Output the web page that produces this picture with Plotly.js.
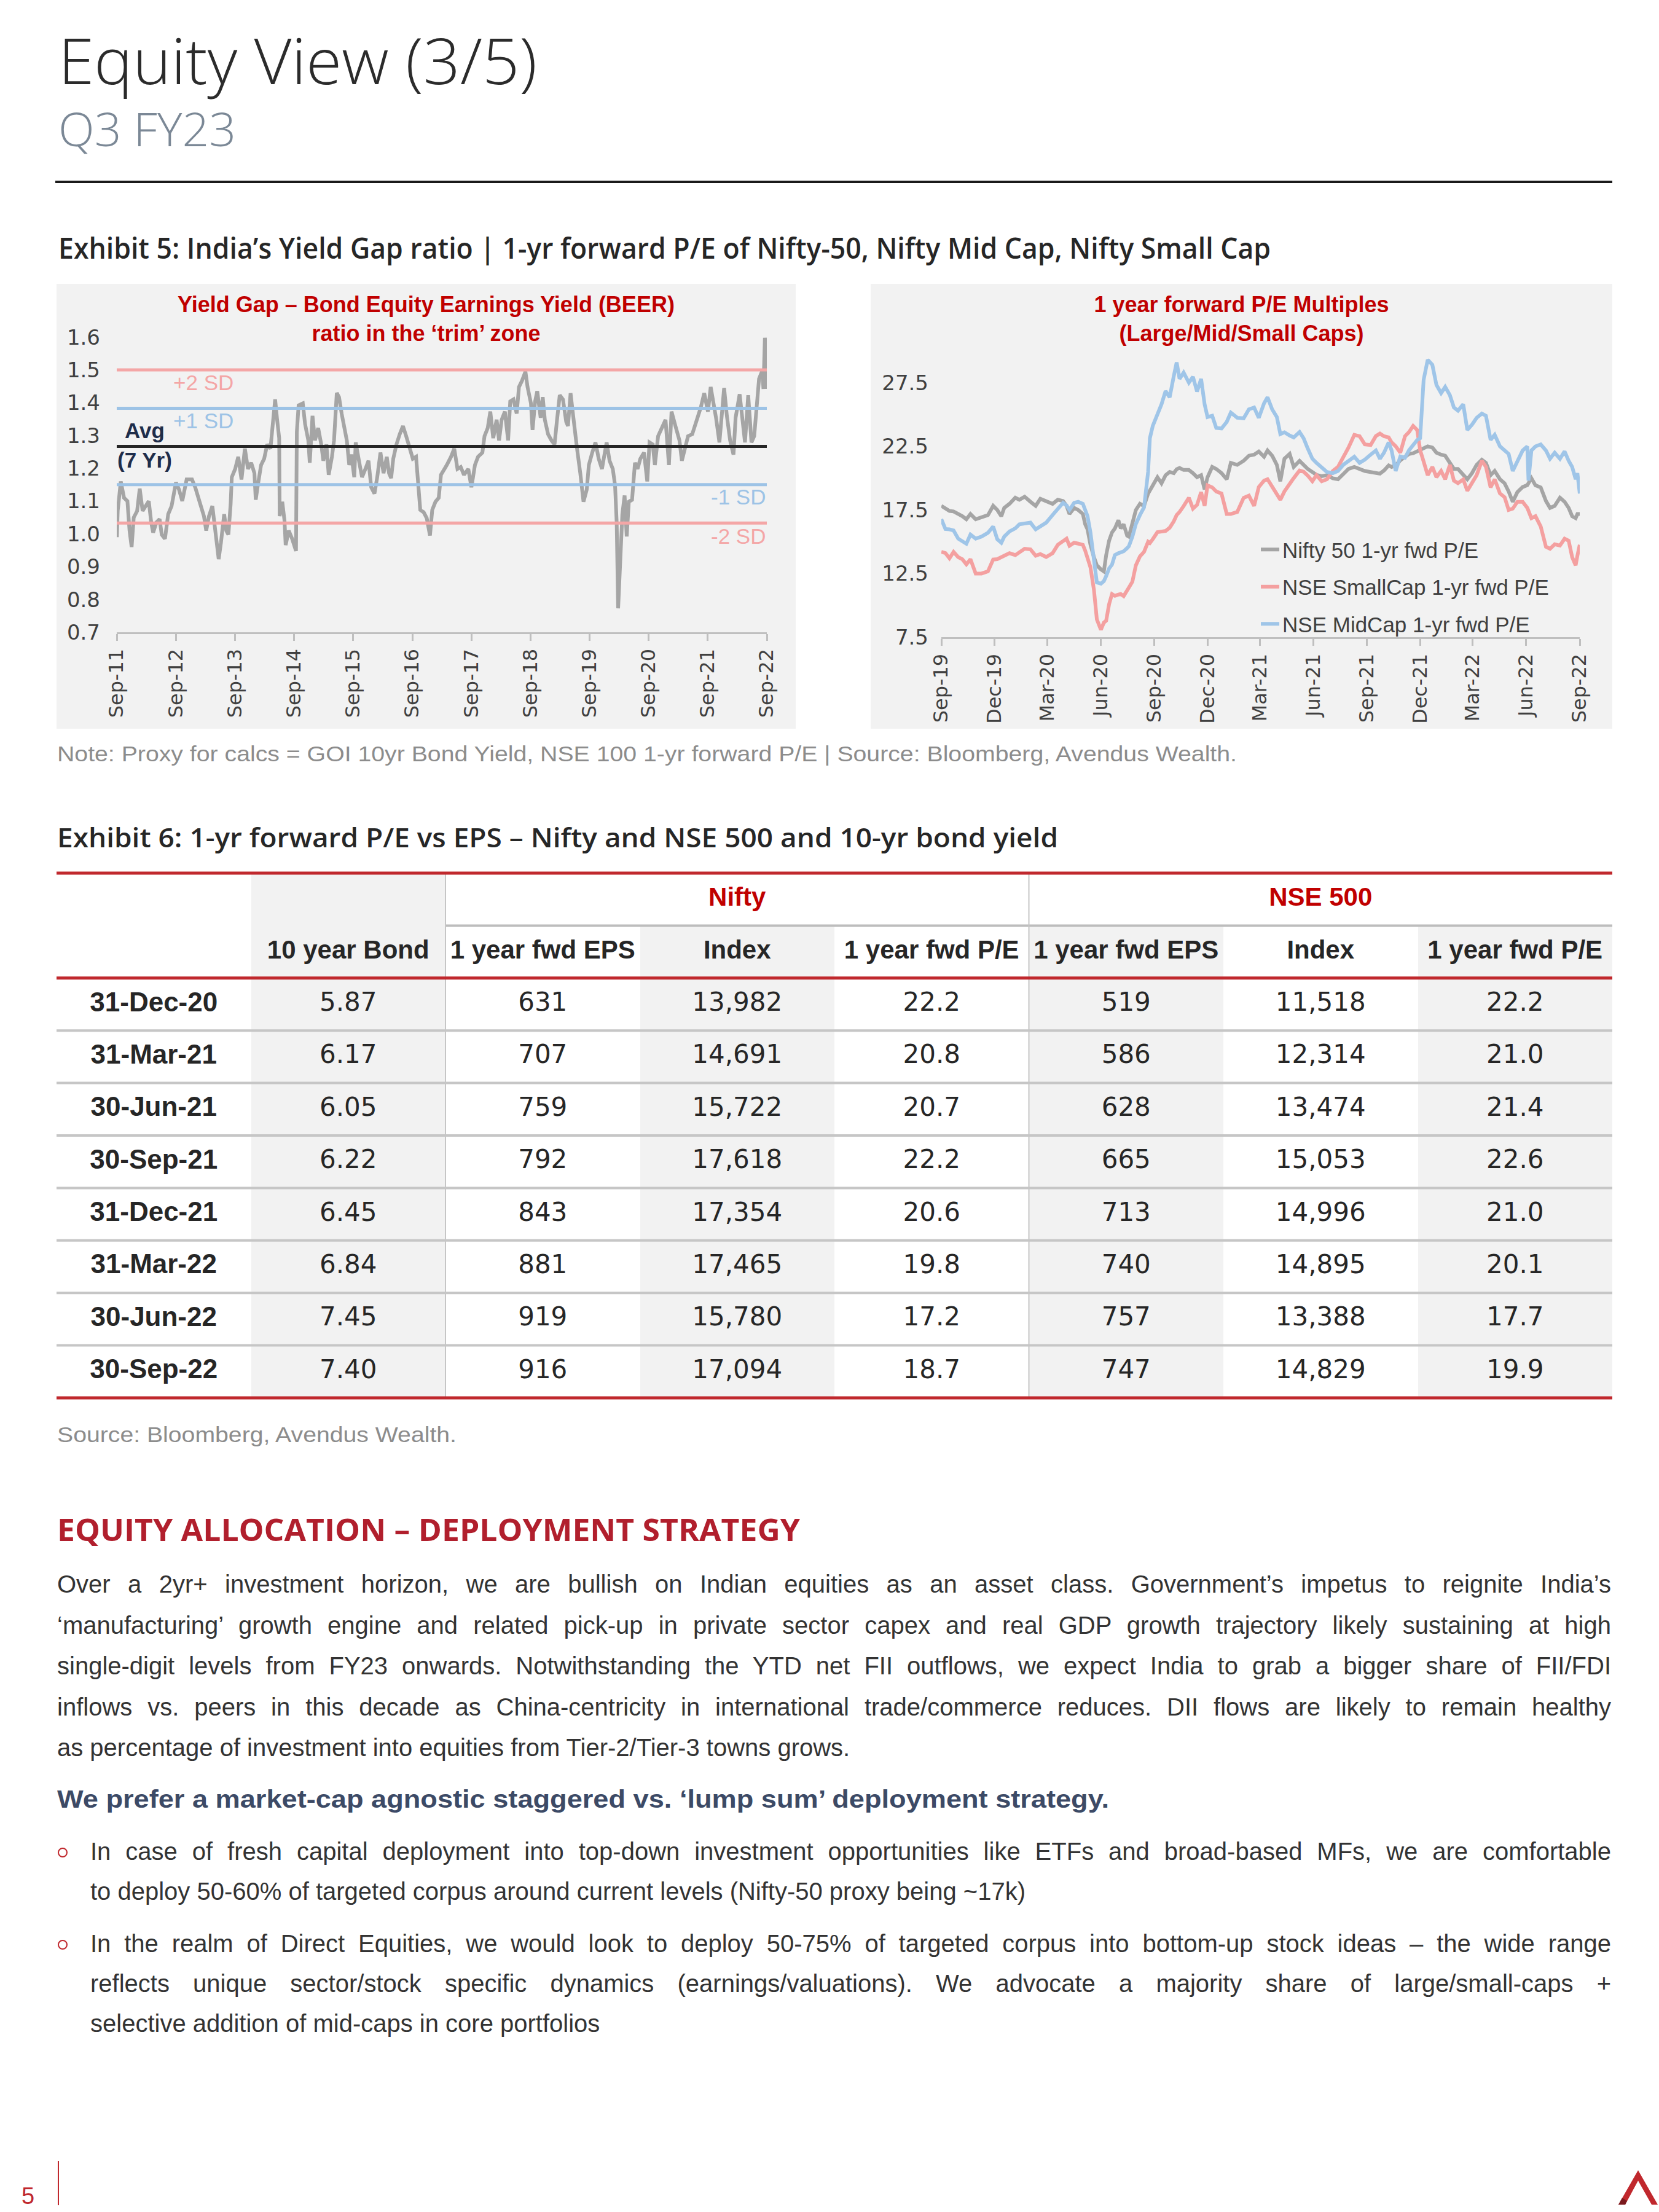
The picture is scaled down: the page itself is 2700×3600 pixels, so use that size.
<!DOCTYPE html>
<html><head><meta charset="utf-8"><title>Equity View (3/5)</title>
<script src="https://cdn.plot.ly/plotly-3.0.1.min.js"></script>
<style>
html,body{margin:0;padding:0;background:#fff}
body{position:relative;width:2700px;height:3600px;overflow:hidden;font-family:"Liberation Sans",Arial,sans-serif;color:#262626}
.t{position:absolute;left:0;top:0;white-space:nowrap;line-height:1;transform-origin:0 0}
.box{position:absolute}
</style></head><body>
<div class="box" style="left:90px;top:294px;width:2534px;height:4px;background:#1a1a1a"></div>
<div id="beer" class="box" style="left:92px;top:462px;width:1203px;height:724px"></div>
<div id="pe" class="box" style="left:1417px;top:462px;width:1207px;height:724px"></div>
<div id="tbl" class="box" style="left:92px;top:1416px;width:2532px;height:864px"></div>
<div class="box" style="left:94px;top:3517px;width:2px;height:72px;background:#c0282d"></div>
<svg class="box" style="left:2628px;top:3530px" width="72" height="62"><polygon points="38,2 70,58 60,58 38,19 17,58 6,58" fill="#c0282d"/><polygon points="17,58 6,58 12,47 20,52" fill="#7a1a1e"/></svg>
<script>
// ---------------- DATA ----------------
// Exhibit 5 left: Yield Gap (BEER) ratio
const beerDates = ['2011-09-02','2011-09-07','2011-09-26','2011-10-16','2011-11-06','2011-11-19','2011-12-02','2011-12-15','2012-01-05','2012-01-21','2012-02-08','2012-02-27','2012-03-17','2012-04-01','2012-04-13','2012-05-03','2012-05-23','2012-06-05','2012-06-25','2012-07-15','2012-08-05','2012-09-01','2012-09-20','2012-10-10','2012-11-06','2012-12-09','2012-12-29','2013-01-25','2013-02-21','2013-03-07','2013-03-24','2013-04-14','2013-05-04','2013-05-23','2013-06-06','2013-06-26','2013-07-09','2013-07-22','2013-08-05','2013-08-12','2013-09-02','2013-09-21','2013-10-11','2013-11-01','2013-11-20','2013-12-10','2013-12-30','2014-01-07','2014-01-20','2014-02-09','2014-02-28','2014-03-19','2014-04-08','2014-04-21','2014-05-07','2014-05-18','2014-06-01','2014-06-04','2014-06-20','2014-07-04','2014-07-11','2014-07-30','2014-08-20','2014-09-13','2014-09-18','2014-09-29','2014-10-25','2014-11-08','2014-11-28','2014-12-07','2014-12-24','2015-01-08','2015-01-28','2015-02-16','2015-03-01','2015-03-20','2015-04-03','2015-04-23','2015-05-06','2015-05-23','2015-06-06','2015-06-22','2015-07-11','2015-07-24','2015-08-08','2015-08-21','2015-09-08','2015-09-17','2015-10-07','2015-10-26','2015-11-16','2015-12-05','2015-12-22','2016-01-11','2016-01-28','2016-02-17','2016-03-07','2016-03-27','2016-04-10','2016-04-23','2016-05-06','2016-05-26','2016-06-15','2016-07-05','2016-07-25','2016-08-14','2016-09-04','2016-09-24','2016-10-07','2016-10-20','2016-11-10','2016-11-29','2016-12-19','2017-01-02','2017-01-22','2017-02-11','2017-02-25','2017-03-15','2017-04-02','2017-04-28','2017-05-18','2017-06-07','2017-06-27','2017-07-17','2017-08-13','2017-09-01','2017-09-23','2017-10-12','2017-11-08','2017-11-21','2017-12-11','2017-12-27','2018-01-14','2018-02-04','2018-02-19','2018-03-07','2018-03-27','2018-04-16','2018-04-29','2018-05-19','2018-06-08','2018-06-22','2018-07-11','2018-08-01','2018-08-14','2018-09-04','2018-09-14','2018-09-30','2018-10-13','2018-11-03','2018-11-16','2018-11-29','2018-12-19','2019-01-09','2019-01-28','2019-02-11','2019-03-01','2019-03-21','2019-04-10','2019-04-21','2019-05-07','2019-05-20','2019-06-03','2019-06-16','2019-07-06','2019-07-26','2019-08-15','2019-08-28','2019-09-18','2019-10-08','2019-10-28','2019-11-17','2019-11-30','2019-12-16','2020-01-03','2020-01-23','2020-02-06','2020-02-16','2020-02-25','2020-03-09','2020-03-22','2020-04-05','2020-04-18','2020-05-01','2020-05-21','2020-06-08','2020-06-24','2020-07-11','2020-08-03','2020-08-23','2020-09-06','2020-09-26','2020-10-09','2020-10-29','2020-11-25','2020-12-14','2021-01-04','2021-01-20','2021-02-13','2021-03-10','2021-03-25','2021-04-12','2021-05-02','2021-05-28','2021-06-24','2021-07-20','2021-08-10','2021-09-02','2021-09-19','2021-10-09','2021-10-22','2021-11-12','2021-11-25','2021-12-11','2021-12-28','2022-01-17','2022-02-07','2022-02-20','2022-03-17','2022-04-06','2022-04-19','2022-05-09','2022-05-29','2022-06-15','2022-07-01','2022-07-15','2022-08-04','2022-08-11','2022-08-20','2022-08-27','2022-09-01'];
const beerValues = [0.99,1.07,1.16,1.11,1.10,1.01,0.96,1.05,1.07,1.138,1.07,1.085,1.10,1.035,1.004,1.035,1.045,0.998,0.985,1.06,1.085,1.157,1.135,1.10,1.166,1.166,1.142,1.098,1.054,1.01,1.054,1.085,1.01,0.923,0.973,1.06,1.01,0.998,1.091,1.173,1.198,1.235,1.166,1.26,1.198,1.217,1.185,1.104,1.148,1.21,1.229,1.273,1.26,1.323,1.41,1.354,1.292,1.054,1.098,1.04,0.966,1.01,0.985,0.948,1.31,1.392,1.398,1.335,1.285,1.217,1.36,1.285,1.323,1.273,1.223,1.273,1.18,1.235,1.285,1.43,1.417,1.367,1.323,1.285,1.21,1.242,1.173,1.279,1.223,1.173,1.198,1.223,1.142,1.123,1.173,1.248,1.185,1.235,1.185,1.17,1.229,1.273,1.304,1.329,1.298,1.267,1.229,1.235,1.148,1.073,1.066,1.048,0.995,1.073,1.098,1.11,1.18,1.198,1.21,1.235,1.26,1.198,1.204,1.18,1.198,1.142,1.21,1.235,1.248,1.298,1.323,1.373,1.292,1.348,1.285,1.348,1.373,1.285,1.404,1.41,1.367,1.448,1.467,1.495,1.448,1.398,1.317,1.404,1.435,1.354,1.417,1.348,1.304,1.285,1.273,1.342,1.423,1.41,1.342,1.329,1.429,1.373,1.304,1.26,1.185,1.098,1.135,1.21,1.248,1.279,1.229,1.198,1.235,1.279,1.223,1.198,1.148,1.035,0.773,0.948,1.06,1.117,0.992,1.098,1.104,1.217,1.198,1.229,1.248,1.16,1.279,1.273,1.21,1.298,1.329,1.348,1.21,1.373,1.329,1.285,1.223,1.254,1.298,1.304,1.342,1.386,1.429,1.373,1.448,1.398,1.354,1.279,1.354,1.445,1.36,1.285,1.242,1.354,1.426,1.323,1.279,1.423,1.279,1.298,1.398,1.473,1.498,1.442,1.598,1.56,1.442];
const bandSpan = ['2011-09-01','2022-09-01'];
const bandLevels = [1.500, 1.383, 1.267, 1.150, 1.033];
const bandColors = ['#f4a6a6','#9dc3e6','#262626','#9dc3e6','#f4a6a6'];

// Exhibit 5 right: 1-yr forward P/E multiples
const peDates = ['2019-09-01','2019-09-08','2019-09-15','2019-09-22','2019-09-30','2019-10-07','2019-10-14','2019-10-21','2019-10-30','2019-11-09','2019-11-20','2019-11-29','2019-12-06','2019-12-13','2019-12-18','2019-12-27','2020-01-06','2020-01-13','2020-01-22','2020-02-01','2020-02-10','2020-02-18','2020-02-28','2020-03-10','2020-03-19','2020-03-28','2020-04-03','2020-04-08','2020-04-16','2020-04-23','2020-05-01','2020-05-05','2020-05-09','2020-05-14','2020-05-20','2020-05-25','2020-06-01','2020-06-06','2020-06-10','2020-06-15','2020-06-20','2020-06-25','2020-07-01','2020-07-05','2020-07-10','2020-07-16','2020-07-19','2020-07-25','2020-07-31','2020-08-07','2020-08-14','2020-08-21','2020-08-24','2020-08-29','2020-09-06','2020-09-13','2020-09-20','2020-09-27','2020-10-04','2020-10-09','2020-10-14','2020-10-21','2020-10-30','2020-11-06','2020-11-13','2020-11-20','2020-11-26','2020-12-01','2020-12-09','2020-12-16','2020-12-25','2021-01-03','2021-01-10','2021-01-21','2021-02-01','2021-02-10','2021-02-19','2021-02-27','2021-03-08',
'2021-03-14','2021-03-22','2021-03-30','2021-04-05','2021-04-12','2021-04-21','2021-04-28','2021-05-08','2021-05-15','2021-05-22','2021-05-30','2021-06-06','2021-06-15','2021-06-24','2021-07-04','2021-07-13','2021-07-22','2021-07-31','2021-08-10','2021-08-19','2021-08-28','2021-09-07','2021-09-16','2021-09-23','2021-09-30','2021-10-08','2021-10-13','2021-10-20','2021-10-28','2021-11-05','2021-11-12','2021-11-19','2021-11-26','2021-12-01','2021-12-07','2021-12-14','2021-12-22','2021-12-29','2022-01-06','2022-01-13','2022-01-21','2022-01-28','2022-02-04','2022-02-13','2022-02-20','2022-02-28','2022-03-08','2022-03-17','2022-03-24','2022-04-01','2022-04-08','2022-04-17','2022-04-25','2022-05-02','2022-05-09','2022-05-17','2022-05-26','2022-06-03','2022-06-05','2022-06-10','2022-06-17','2022-06-26','2022-07-05','2022-07-12','2022-07-20','2022-07-29','2022-08-06','2022-08-13','2022-08-19','2022-08-25','2022-08-28','2022-09-01'];
const nifty50PE = [17.82,17.66,17.42,17.38,17.2,17.01,16.77,17.18,16.77,16.93,17.09,17.82,17.50,17.0,17.66,17.98,18.46,18.30,18.54,18.14,17.82,18.38,18.22,17.98,18.30,18.2,17.82,17.18,17.66,17.50,17.18,16.37,15.97,14.76,13.79,13.15,12.83,12.67,13.95,15.08,15.73,16.05,16.69,16.05,16.37,15.48,15.40,16.53,17.50,17.98,17.82,18.78,19.0,19.43,20.07,19.59,20.23,20.48,20.39,20.7,20.8,20.64,20.64,20.39,20.07,20.23,19.11,20.07,20.88,20.72,20.39,19.91,21.20,21.04,21.36,21.76,21.84,22.09,21.68,
22.17,21.76,21.04,19.75,21.52,21.9,20.88,21.36,21.04,20.72,20.48,20.25,20.15,20.23,19.99,19.91,20.31,20.72,20.88,20.72,20.56,20.48,20.4,20.35,20.6,21.0,20.88,21.0,21.4,21.7,21.9,21.95,22.1,22.25,22.35,22.5,22.4,22.0,21.84,21.76,21.20,20.72,20.72,20.31,19.91,20.39,21.04,21.44,21.2,20.23,20.56,19.91,19.59,18.95,18.14,18.9,19.3,19.45,19.6,19.99,19.43,19.27,18.2,17.66,17.82,18.46,18.14,17.66,17.0,16.85,17.18,17.18];
const smallCapPE = [14.2,14.11,13.7,14.2,13.79,13.63,13.23,13.63,12.5,12.5,12.67,13.6,13.63,13.79,13.9,14.1,13.95,14.2,14.45,14.4,13.9,14.03,13.8,14.1,14.76,15.05,15.24,14.68,14.92,14.85,14.75,14.3,13.63,12.99,11.22,8.9,8.08,8.64,8.80,10.09,10.89,10.75,10.85,10.89,10.73,11.1,11.4,11.86,13.15,13.85,14.2,15.0,14.9,15.2,15.75,15.8,15.85,16.1,16.6,17.1,17.34,17.8,18.46,17.6,17.9,18.9,17.82,19.43,19.27,18.95,18.79,17.18,17.18,17.34,18.45,18.62,17.82,19.3,19.8,
19.91,19.3,18.8,18.30,18.95,19.59,20.0,20.6,20.5,20.2,19.75,20.23,19.75,19.91,20.56,20.88,21.6,22.4,23.4,23.29,22.65,22.6,23.3,23.5,23.29,23.2,22.81,22.5,22.0,23.29,23.62,24.10,23.78,22.2,21.3,20.23,20.88,20.07,20.56,19.91,21.04,19.8,19.6,19.9,19.0,19.59,20.23,21.36,20.88,19.27,19.91,18.8,18.5,17.5,17.6,18.14,18.14,17.66,17.4,16.85,17.01,16.2,14.6,14.45,14.8,14.7,15.24,15.08,13.79,13.15,13.9,14.76];
const midCapPE = [16.77,16.0,15.97,15.89,15.24,15.05,14.84,15.56,15.24,15.40,15.70,16.2,15.2,14.92,15.40,15.81,16.05,16.37,16.4,16.5,15.97,16.2,16.5,17.1,17.6,18.06,17.85,17.50,18.06,18.14,17.98,17.5,17.01,15.73,13.79,11.8,11.7,11.9,12.3,12.9,13.2,13.95,14.1,14.15,14.25,14.5,14.65,15.4,16.4,17.1,17.7,20.5,23.13,24.10,25.0,25.8,26.84,26.35,28.0,29.09,27.80,28.29,27.5,27.96,26.8,27.8,25.8,24.8,24.90,23.94,23.9,24.42,25.15,24.74,24.7,25.4,25.55,24.74,25.87,
26.35,25.4,24.8,23.46,23.6,23.35,23.2,23.62,23.13,22.33,21.52,21.20,20.8,20.48,20.39,20.56,21.04,21.36,21.68,21.2,21.45,21.84,22.17,21.52,22.0,22.81,22.17,20.56,21.7,21.6,22.2,22.6,23.0,23.13,27.72,29.3,28.9,27.32,26.68,27.16,26.52,25.55,25.3,25.8,23.78,24.2,24.74,25.07,24.9,23.0,23.4,22.5,22.2,21.9,20.56,21.4,22.17,22.49,19.8,22.17,22.49,22.65,22.17,21.52,22.0,21.52,22.1,21.36,20.88,19.91,20.39,18.79];
const peSeriesNames = ['Nifty 50 1-yr fwd P/E','NSE SmallCap 1-yr fwd P/E','NSE MidCap 1-yr fwd P/E'];

// Exhibit 6 table
const rowDates = ['31-Dec-20','31-Mar-21','30-Jun-21','30-Sep-21','31-Dec-21','31-Mar-22','30-Jun-22','30-Sep-22'];
const bond10y = [5.87,6.17,6.05,6.22,6.45,6.84,7.45,7.40];
const niftyEps = [631,707,759,792,843,881,919,916];
const niftyIndex = [13982,14691,15722,17618,17354,17465,15780,17094];
const niftyPE = [22.2,20.8,20.7,22.2,20.6,19.8,17.2,18.7];
const nse500Eps = [519,586,628,665,713,740,757,747];
const nse500Index = [11518,12314,13474,15053,14996,14895,13388,14829];
const nse500PE = [22.2,21.0,21.4,22.6,21.0,20.1,17.7,19.9];
const colHeaders = ['','10 year Bond','1 year fwd EPS','Index','1 year fwd P/E','1 year fwd EPS','Index','1 year fwd P/E'];
const groupHeaders = ['Nifty','NSE 500'];

// ---------------- TEXT HELPERS ----------------
const SANS = '"Liberation Sans", Arial, sans-serif';
function put(txt, o){
  const el=document.createElement('div'); el.className='t'; el.textContent=txt;
  el.style.fontSize=o.size+'px'; el.style.fontFamily=o.family||SANS;
  el.style.fontWeight=o.weight||400; el.style.color=o.color||'#262626';
  el.style.left=o.x+'px';
  document.body.appendChild(el);
  const m=document.createElement('span'); m.style.cssText='display:inline-block;width:0;height:0;vertical-align:baseline';
  el.appendChild(m);
  const off=m.getBoundingClientRect().top-el.getBoundingClientRect().top;
  el.removeChild(m);
  el.style.top=(o.base-off)+'px';
  const w=el.getBoundingClientRect().width;
  if(o.width){
    if(o.justify){const n=(txt.match(/ /g)||[]).length; if(n) el.style.wordSpacing=((o.width-w)/n)+'px';}
    else el.style.transform='scaleX('+(o.width/w)+')';
  }
  return el;
}
function bullet(cx, cy){
  const d=document.createElement('div'); d.className='box';
  d.style.cssText='position:absolute;left:'+(cx-8)+'px;top:'+(cy-8)+'px;width:12px;height:12px;border:2.5px solid #c0282d;border-radius:50%';
  document.body.appendChild(d);
}

put('Equity View (3/5)',{x:95,base:137,size:103,family:'"Open Sans", sans-serif',weight:300,color:'#2b2b2b',width:779});
put('Q3 FY23',{x:95,base:238,size:76,family:'"Open Sans", sans-serif',weight:300,color:'#7b8896',width:289});
put('Exhibit 5: India’s Yield Gap ratio | 1-yr forward P/E of Nifty-50, Nifty Mid Cap, Nifty Small Cap',{x:95,base:421,size:47,family:'"Open Sans", sans-serif',weight:600,color:'#262626',width:1973});
put('Note: Proxy for calcs = GOI 10yr Bond Yield, NSE 100 1-yr forward P/E | Source: Bloomberg, Avendus Wealth.',{x:93,base:1239,size:35,color:'#8c8c8c',width:1920});
put('Exhibit 6: 1-yr forward P/E vs EPS – Nifty and NSE 500 and 10-yr bond yield',{x:93,base:1379,size:44,family:'"Open Sans", sans-serif',weight:600,color:'#262626',width:1629});
put('Source: Bloomberg, Avendus Wealth.',{x:93,base:2347,size:35,color:'#8c8c8c',width:650});
put('EQUITY ALLOCATION – DEPLOYMENT STRATEGY',{x:93,base:2508,size:50,family:'"Open Sans", sans-serif',weight:700,color:'#b11f2d',width:1209});
const para=['Over a 2yr+ investment horizon, we are bullish on Indian equities as an asset class. Government’s impetus to reignite India’s',
'‘manufacturing’ growth engine and related pick-up in private sector capex and real GDP growth trajectory likely sustaining at high',
'single-digit levels from FY23 onwards. Notwithstanding the YTD net FII outflows, we expect India to grab a bigger share of FII/FDI',
'inflows vs. peers in this decade as China-centricity in international trade/commerce reduces. DII flows are likely to remain healthy',
'as percentage of investment into equities from Tier-2/Tier-3 towns grows.'];
para.forEach((s,i)=>put(s,{x:93,base:2592+66.5*i,size:40,color:'#333',width:i<4?2529:null,justify:true}));
put('We prefer a market-cap agnostic staggered vs. ‘lump sum’ deployment strategy.',{x:93,base:2942,size:40,weight:700,color:'#3c4a66',width:1712});
const b1=['In case of fresh capital deployment into top-down investment opportunities like ETFs and broad-based MFs, we are comfortable',
'to deploy 50-60% of targeted corpus around current levels (Nifty-50 proxy being ~17k)'];
const b2=['In the realm of Direct Equities, we would look to deploy 50-75% of targeted corpus into bottom-up stock ideas – the wide range',
'reflects unique sector/stock specific dynamics (earnings/valuations). We advocate a majority share of large/small-caps +',
'selective addition of mid-caps in core portfolios'];
b1.forEach((s,i)=>put(s,{x:147,base:3027+65*i,size:40,color:'#333',width:i<1?2475:null,justify:true}));
b2.forEach((s,i)=>put(s,{x:147,base:3177+65*i,size:40,color:'#333',width:i<2?2475:null,justify:true}));
bullet(102,3015); bullet(102,3165);
put('5',{x:35,base:3587,size:38,color:'#c0282d'});

// ---------------- CHART 1 ----------------
const TICKF = {family:'"DejaVu Sans", sans-serif', size:34, color:'#404040'};
const XTICKF = {family:'"DejaVu Sans", sans-serif', size:32, color:'#404040'};
const TITLEF = {family:SANS, size:36, color:'#c00000', weight:'bold'};
const TITLE_Y = 1-46/724;
const beerTraces=[{x:beerDates,y:beerValues,type:'scatter',mode:'lines',line:{color:'#a5a5a5',width:6},hoverinfo:'skip'}];
bandLevels.forEach((lv,i)=>beerTraces.push({x:bandSpan,y:[lv,lv],type:'scatter',mode:'lines',line:{color:bandColors[i],width:5},hoverinfo:'skip'}));
const annF=(c,w)=>({family:SANS,size:35,color:c,weight:w||'normal'});
Plotly.newPlot('beer',beerTraces,{
  width:1203,height:724,paper_bgcolor:'#f2f2f2',plot_bgcolor:'#f2f2f2',showlegend:false,
  margin:{l:98,r:47,t:76,b:157},
  title:{text:'Yield Gap – Bond Equity Earnings Yield (BEER)<br>ratio in the ‘trim’ zone',x:0.5,xanchor:'center',xref:'container',y:TITLE_Y,yref:'container',yanchor:'top',font:TITLEF},
  xaxis:{type:'date',range:['2011-09-01','2022-09-01'],tick0:'2011-09-01',dtick:'M12',tickformat:'%b-%y',tickangle:-90,ticks:'outside',ticklen:11,tickwidth:3,tickcolor:'#bfbfbf',showline:true,linecolor:'#bfbfbf',linewidth:3,showgrid:false,zeroline:false,tickfont:XTICKF},
  yaxis:{range:[0.7,1.62],tick0:0.7,dtick:0.1,tickformat:'.1f',showgrid:false,zeroline:false,showline:false,ticks:'',ticklabelstandoff:26,tickfont:TICKF},
  annotations:[
    {x:'2012-08-07',y:1.462,text:'+2 SD',showarrow:false,xanchor:'left',yanchor:'middle',font:annF('#f4a6a6')},
    {x:'2012-08-07',y:1.346,text:'+1 SD',showarrow:false,xanchor:'left',yanchor:'middle',font:annF('#9dc3e6')},
    {x:'2012-02-22',y:1.315,text:'Avg',showarrow:false,xanchor:'center',yanchor:'middle',font:annF('#1f2d4a','bold')},
    {x:'2012-02-22',y:1.226,text:'(7 Yr)',showarrow:false,xanchor:'center',yanchor:'middle',font:annF('#1f2d4a','bold')},
    {x:'2022-09-01',y:1.114,text:'-1 SD',showarrow:false,xanchor:'right',yanchor:'middle',font:annF('#9dc3e6')},
    {x:'2022-09-01',y:0.994,text:'-2 SD',showarrow:false,xanchor:'right',yanchor:'middle',font:annF('#f4a6a6')}
  ]
},{staticPlot:true,displayModeBar:false});

// ---------------- CHART 2 ----------------
const peColors=['#a5a5a5','#f4a0a0','#9fc5e8'];
const peVals=[nifty50PE,smallCapPE,midCapPE];
const peTraces=peVals.map((v,i)=>({x:peDates,y:v,type:'scatter',mode:'lines',name:peSeriesNames[i],legendgroup:'g'+i,line:{color:peColors[i],width:6},hoverinfo:'skip'}));
Plotly.newPlot('pe',peTraces,{
  width:1207,height:724,paper_bgcolor:'#f2f2f2',plot_bgcolor:'#f2f2f2',showlegend:true,
  margin:{l:115,r:53,t:109,b:149},
  title:{text:'1 year forward P/E Multiples<br>(Large/Mid/Small Caps)',x:0.5,xanchor:'center',xref:'container',y:TITLE_Y,yref:'container',yanchor:'top',font:TITLEF},
  legend:{x:0.4957,xanchor:'left',y:0.369,yanchor:'top',bgcolor:'rgba(0,0,0,0)',font:{family:SANS,size:35,color:'#404040'},tracegroupgap:12,traceorder:'grouped'},
  xaxis:{type:'date',range:['2019-09-01','2022-09-01'],tick0:'2019-09-01',dtick:'M3',tickformat:'%b-%y',tickangle:-90,ticks:'outside',ticklen:11,tickwidth:3,tickcolor:'#bfbfbf',showline:true,linecolor:'#bfbfbf',linewidth:3,showgrid:false,zeroline:false,tickfont:XTICKF},
  yaxis:{range:[7.5,30],tick0:7.5,dtick:5,tickformat:'.1f',showgrid:false,zeroline:false,showline:false,ticks:'',ticklabelstandoff:20,tickfont:TICKF}
},{staticPlot:true,displayModeBar:false});

// ---------------- TABLE ----------------
const nR=rowDates.length, nC=colHeaders.length;
const shade=[colHeaders.map((h,j)=>j===1?1:0)];
for(let r=0;r<=nR;r++) shade.push(colHeaders.map((h,j)=>j%2===1?1:0));
const rowIdx=rowDates.map((d,i)=>i+2);
const fmt2=v=>v.toFixed(2), fmt1=v=>v.toFixed(1), fmt0=v=>String(v), fmtK=v=>v.toLocaleString('en-US');
const cols=[[bond10y,fmt2],[niftyEps,fmt0],[niftyIndex,fmtK],[niftyPE,fmt1],[nse500Eps,fmt0],[nse500Index,fmtK],[nse500PE,fmt1]];
const NUMF={family:'"DejaVu Sans", sans-serif',size:42,color:'#262626'};
const tTraces=[
  {type:'heatmap',z:shade,x:colHeaders.map((h,j)=>j),y:shade.map((r,i)=>i),colorscale:[[0,'#ffffff'],[1,'#f2f2f2']],zmin:0,zmax:1,showscale:false,hoverinfo:'skip'},
  {type:'scatter',mode:'text',x:[3,6],y:[0,0],text:groupHeaders,textfont:{family:SANS,size:42,color:'#c00000',weight:'bold'},hoverinfo:'skip'},
  {type:'scatter',mode:'text',x:colHeaders.map((h,j)=>j).slice(1),y:colHeaders.slice(1).map(()=>1),text:colHeaders.slice(1),textfont:{family:SANS,size:42,color:'#262626',weight:'bold'},hoverinfo:'skip'},
  {type:'scatter',mode:'text',x:rowDates.map(()=>0),y:rowIdx,text:rowDates,textfont:{family:SANS,size:44,color:'#262626',weight:'bold'},hoverinfo:'skip'}
];
cols.forEach((c,j)=>tTraces.push({type:'scatter',mode:'text',x:c[0].map(()=>j+1),y:rowIdx,text:c[0].map(c[1]),textfont:NUMF,hoverinfo:'skip'}));
const shp=[];
const hl=(y,x0,x1,c,w)=>shp.push({type:'line',xref:'x',yref:'y',x0:x0,x1:x1,y0:y,y1:y,line:{color:c,width:w}});
for(let r=2;r<=nR;r++) hl(r+0.5,-0.5,nC-0.5,'#c6c6c6',4);
hl(0.5,1.5,nC-0.5,'#bdbdbd',4);
[1.5,4.5].forEach(x=>shp.push({type:'line',xref:'x',yref:'y',x0:x,x1:x,y0:-0.5,y1:nR+1.5,line:{color:'#c6c6c6',width:2}}));
hl(-0.5,-0.5,nC-0.5,'#c0282d',5); hl(1.5,-0.5,nC-0.5,'#c0282d',5); hl(nR+1.5,-0.5,nC-0.5,'#c0282d',5);
Plotly.newPlot('tbl',tTraces,{
  width:2532,height:864,margin:{l:0,r:0,t:0,b:0},paper_bgcolor:'#ffffff',plot_bgcolor:'#ffffff',showlegend:false,
  xaxis:{range:[-0.5,nC-0.5],visible:false},
  yaxis:{range:[nR+1.56,-0.56],visible:false},
  shapes:shp
},{staticPlot:true,displayModeBar:false});
</script>
</body></html>
